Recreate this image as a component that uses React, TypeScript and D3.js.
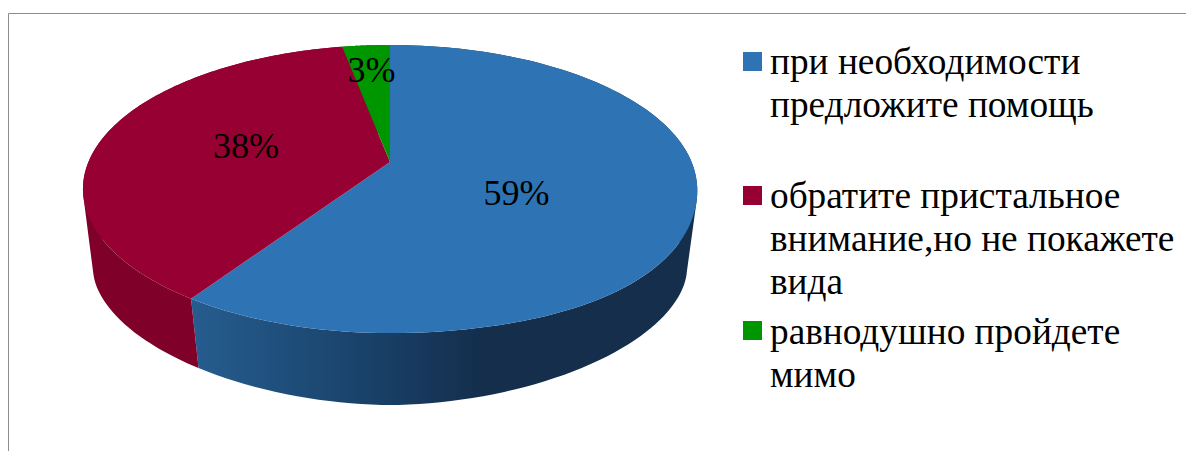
import React, { useMemo } from "react";
import * as d3 from "d3";

const categories = ["при необходимости предложите помощь", "обратите пристальное внимание,но не покажете вида", "равнодушно пройдете мимо"];
const values = [59.4, 37.6, 3];
const labels = ["59%", "38%", "3%"];
const colors = ["#2e74b5", "#970032", "#009600"];
const wallColors = ["#1f5585", "#7f0028", "#007000"];
const legendLines = [["при необходимости", "предложите помощь"], ["обратите пристальное", "внимание,но не покажете", "вида"], ["равнодушно пройдете", "мимо"]];

const CX = 390, CY = 162, A = 301.6, B = 139, K = 0.1875;
const BOT_CY = 269, BOT_RX = 297, BOT_RY = 136, BOT_P = 1.85;

function proj(theta: number): [number, number] {
  const u = Math.sin(theta), v = -Math.cos(theta);
  const w = 1 - K * v;
  const bulge = u > 0 && v > 0 ? 35 * u * v * v * v : 0;
  return [CX + A * u / w + bulge, CY + B * v / w];
}

function projBottom(theta: number): [number, number] {
  const u = Math.sin(theta), v = -Math.cos(theta);
  const alpha = Math.atan2(v, Math.abs(u));
  const phi = alpha - (10.8 * Math.PI / 180) * Math.min(1, 1.32 * Math.cos(alpha));
  const e = 2 / BOT_P;
  const c = Math.pow(Math.abs(Math.cos(phi)), e);
  const s = Math.pow(Math.abs(Math.sin(phi)), e) * Math.sign(Math.sin(phi));
  return [CX + Math.sign(u) * BOT_RX * c, BOT_CY + BOT_RY * s];
}

const line = d3.line();

function wallPath(a0: number, a1: number): string {
  const n = 120;
  let d = "";
  for (let i = 0; i < n; i++) {
    const t0 = a0 + (a1 - a0) * i / n, t1 = a0 + (a1 - a0) * (i + 1) / n;
    let q: [number, number][] = [proj(t0), proj(t1), projBottom(t1), projBottom(t0)];
    if (d3.polygonArea(q) < 0) q = q.reverse();
    d += line(q) + "Z";
  }
  return d;
}

export default function App() {
  const arcs = useMemo(() => d3.pie<number>().sort(null)(values), []);
  const sample = (a0: number, a1: number) => d3.range(0, 121).map((i) => a0 + (a1 - a0) * i / 120);
  return (
    <svg width={1186} height={451} style={{ position: "absolute", left: 0, top: 0, background: "#fff" }} fontFamily="'Liberation Serif', serif">
      <defs>
        <linearGradient id="blueWall" gradientUnits="userSpaceOnUse" x1={190} x2={697} y1={0} y2={0}>
          <stop offset="0" stopColor="#265d8f" />
          <stop offset="0.38" stopColor="#183f66" />
          <stop offset="0.58" stopColor="#142e4c" />
          <stop offset="1" stopColor="#142e4c" />
        </linearGradient>
      </defs>
      <path d="M8.5 451V13.5H1186" fill="none" stroke="#8c8c8c" strokeWidth={1} />
      {arcs.map((a, i) => (
        <path key={"w" + i} d={wallPath(a.startAngle, a.endAngle)} fill={i === 0 ? "url(#blueWall)" : wallColors[i]} />
      ))}
      {arcs.map((a, i) => {
        const top = sample(a.startAngle, a.endAngle).map((t) => proj(t));
        return <path key={"t" + i} d={line([[CX, CY], ...top])! + "Z"} fill={colors[i]} />;
      })}
      {[[516.5, 205], [246, 158], [371.5, 82]].map(([x, y], i) => (
        <text key={i} x={x} y={y} fontSize={36} textAnchor="middle" fill="#000">{labels[i]}</text>
      ))}
      {[[743, 52, 74], [743, 186, 208], [743, 321, 344]].map(([x, sq, y0], i) => (
        <g key={i}>
          <rect x={x} y={sq} width={19} height={19} fill={colors[i]} />
          <text fontSize={37.3} fill="#000" aria-label={categories[i]}>
            {legendLines[i].map((l, j) => <tspan key={j} x={770} y={y0 + j * 43}>{l}</tspan>)}
          </text>
        </g>
      ))}
    </svg>
  );
}
